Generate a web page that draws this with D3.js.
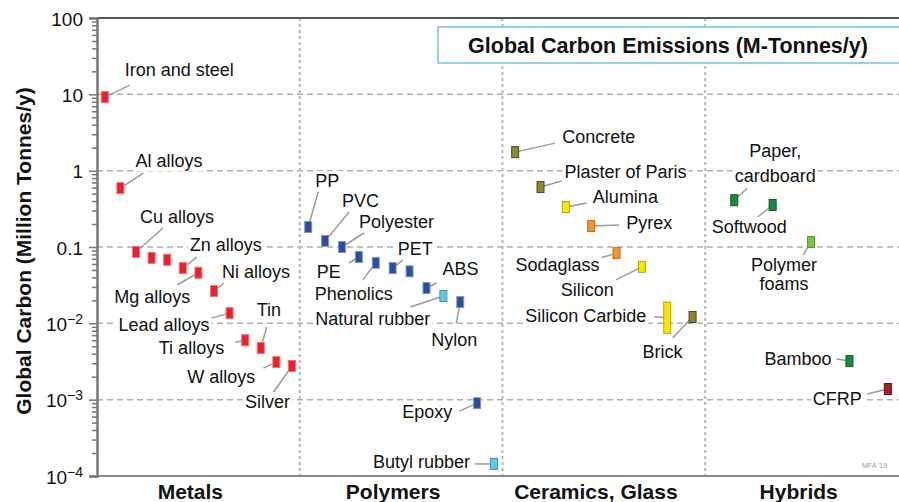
<!DOCTYPE html>
<html>
<head>
<meta charset="utf-8">
<script src="https://cdn.jsdelivr.net/npm/d3@7"></script>
<style>
  body { margin: 0; background: #fff; }
  svg { display: block; font-family: "Liberation Sans", Arial, Helvetica, sans-serif; }
</style>
</head>
<body>
<svg id="chart" width="899" height="502"></svg>
<script>
// categories along the bottom
const categories = ["Metals", "Polymers", "Ceramics, Glass", "Hybrids"];

// metals (million tonnes CO2 / y)
const metalNames  = ["Iron and steel", "Al alloys", "Cu alloys", "", "", "Zn alloys", "Mg alloys",
                     "Ni alloys", "Lead alloys", "Ti alloys", "Tin", "W alloys", "Silver"];
const metalValues = [9.2, 0.59, 0.086, 0.072, 0.068, 0.053, 0.046, 0.0265, 0.0136, 0.006, 0.00475, 0.0031, 0.00276];
const metalGroups = ["metal", "metal", "metal", "metal", "metal", "metal", "metal",
                     "metal", "metal", "metal", "metal", "metal", "metal"];

// polymers
const polymerNames  = ["PP", "PVC", "Polyester", "PE", "Phenolics", "PET", "", "ABS",
                       "Natural rubber", "Nylon", "Epoxy", "Butyl rubber"];
const polymerValues = [0.183, 0.12, 0.1, 0.074, 0.062, 0.053, 0.048, 0.029, 0.0228, 0.019, 0.0009, 0.000144];
const polymerGroups = ["polymer", "polymer", "polymer", "polymer", "polymer", "polymer", "polymer", "polymer",
                       "elastomer", "polymer", "polymer", "elastomer"];

// ceramics, glass  (silicon carbide is a range)
const ceramicNames  = ["Concrete", "Plaster of Paris", "Alumina", "Pyrex", "Sodaglass", "Silicon",
                       "Silicon Carbide", "Brick"];
const ceramicValues = [1.75, 0.61, 0.334, 0.188, 0.083, 0.055, [0.0074, 0.019], 0.0121];
const ceramicGroups = ["mineral", "mineral", "technical", "glass", "glass", "technical", "technical", "mineral"];

// hybrids
const hybridNames  = ["Paper, cardboard", "Softwood", "Polymer foams", "Bamboo", "CFRP"];
const hybridValues = [0.41, 0.355, 0.116, 0.0032, 0.00138];
const hybridGroups = ["natural", "natural", "foam", "natural", "composite"];

// y ticks
const yTicks = [1e-4, 1e-3, 1e-2, 0.1, 1, 10, 100];
const yTickLabels = [["10", "\u22124"], ["10", "\u22123"], ["10", "\u22122"], ["0.1"], ["1"], ["10"], ["100"]];

const title = "Global Carbon Emissions (M-Tonnes/y)";
const yTitle = "Global Carbon (Million Tonnes/y)";

//colours for each material family
const groupKeys   = ["metal", "polymer", "elastomer", "mineral", "technical", "glass", "natural", "foam", "composite"];
const groupFill   = ["#e6222b", "#2c4e9c", "#63c9dd", "#8b8830", "#f4e800", "#f19531", "#1e8744", "#7cc444", "#a51e2b"];
const groupStroke = ["#f2707a", "#7f98cc", "#2f9bb7", "#4e4c1a", "#b5a800", "#c46d12", "#0e5a2a", "#4c9a22", "#6e0f18"];

// spread of the points inside each column (padding, align)
const innerSpread = [[0.5, 0.5], [0.5, 0.5], [0.5, 0.5], [0.64, 0.59]];

// label placement relative to the point: dx, dy, anchor, leader x, leader y, line gap
const labelPos = {
  "Iron and steel": [20, -21, "start", 25, -12],
  "Al alloys": [15, -21, "start", 23, -15],
  "Cu alloys": [4, -29, "start", 27, -24],
  "Zn alloys": [7, -17, "start", 14, -11],
  "Mg alloys": [-8, 30, "end", -21, 12],
  "Ni alloys": [8, -13, "start", 10, -8],
  "Lead alloys": [-20, 18, "end", -18, 5],
  "Ti alloys": [-21, 14, "end", -10, 2],
  "Tin": [-4, -32, "start", 6, -21],
  "W alloys": [-21, 21, "end", -13, 6],
  "Silver": [-2, 42, "end", -19, 27],
  "PP": [7, -40, "start", 10, -35],
  "PVC": [17, -34, "start", 24, -29],
  "Polyester": [17, -19, "start", 22, -14],
  "PE": [-18, 21, "end", -10, 6],
  "Phenolics": [-61, 37, "start", -13, 17],
  "PET": [5, -13, "start", 10, -8],
  "ABS": [16, -13, "start", 10, -5],
  "Natural rubber": [-13, 29, "end", -33, 11],
  "Nylon": [-29, 44, "start", -4, 21],
  "Epoxy": [-25, 15, "end", -18, 8],
  "Butyl rubber": [-24, 4, "end", -19, 0],
  "Concrete": [47, -9, "start", 40, -9],
  "Plaster of Paris": [24, -9, "start", 21, -6],
  "Alumina": [27, -4, "start", 21, -4],
  "Pyrex": [35, 3, "start", 28, -1],
  "Sodaglass": [-17, 18, "end", -17, 5],
  "Silicon": [-28, 29, "end", -26, 13],
  "Silicon Carbide": [-21, 4, "end", -13, -1],
  "Brick": [-50, 41, "start", -20, 21],
  "Paper, cardboard": [41, -43, "middle", 13, -12, 25],
  "Softwood": [-61, 28, "start", -15, 12],
  "Polymer foams": [-27, 29, "middle", -8, 13, 19],
  "Bamboo": [-18, 4, "end", -13, -2],
  "CFRP": [-26, 16, "end", -21, 5]
};
const lineBreaks = {"Paper, cardboard": ["Paper,", "cardboard"], "Polymer foams": ["Polymer", "foams"]};

const width = 899, height = 502;
const mLeft = 97, mTop = 18, mBottom = 476, mRight = 908;

const svg = d3.select("#chart");

const x = d3.scaleBand().domain(categories).range([mLeft, mRight]);
const y = d3.scaleLog().domain([1e-4, 100]).range([mBottom, mTop]);
const fill = d3.scaleOrdinal().domain(groupKeys).range(groupFill);
const stroke = d3.scaleOrdinal().domain(groupKeys).range(groupStroke);

//build the rows
let rows = [];
let lists = [[metalNames, metalValues, metalGroups], [polymerNames, polymerValues, polymerGroups],
             [ceramicNames, ceramicValues, ceramicGroups], [hybridNames, hybridValues, hybridGroups]];
lists.forEach((l, c) => {
  let inner = d3.scalePoint().domain(d3.range(l[0].length))
      .range([x(categories[c]), x(categories[c]) + x.bandwidth()])
      .padding(innerSpread[c][0]).align(innerSpread[c][1]);
  for (let i = 0; i < l[0].length; i++) {
    let v = l[1][i];
    let lo = Array.isArray(v) ? v[0] : v;
    let hi = Array.isArray(v) ? v[1] : v;
    rows.push({name: l[0][i], group: l[2][i], cx: inner(i), lo: lo, hi: hi,
               cy: Array.isArray(v) ? (y(lo) + y(hi)) / 2 : y(v), range: Array.isArray(v)});
  }
});

// grid lines
svg.append("g").selectAll("line").data(yTicks.slice(1, -1)).join("line")
  .attr("x1", mLeft).attr("x2", width)
  .attr("y1", d => y(d)).attr("y2", d => y(d))
  .attr("stroke", "#b0b0b0").attr("stroke-width", 1.5).attr("stroke-dasharray", "6,4");

svg.append("g").selectAll("line").data(categories.slice(1)).join("line")
  .attr("x1", d => x(d)).attr("x2", d => x(d))
  .attr("y1", mTop).attr("y2", mBottom)
  .attr("stroke", "#b5b5b5").attr("stroke-width", 2).attr("stroke-dasharray", "3,3");

// frame lines
svg.append("line").attr("x1", mLeft).attr("x2", width).attr("y1", mTop).attr("y2", mTop)
  .attr("stroke", "#555").attr("stroke-width", 2);
svg.append("line").attr("x1", mLeft).attr("x2", width).attr("y1", mBottom).attr("y2", mBottom)
  .attr("stroke", "#8a8a8a").attr("stroke-width", 2);

// y axis, minor ticks first
let minor = [];
for (let e = -4; e < 2; e++) for (let k = 2; k < 10; k++) minor.push(k * Math.pow(10, e));
let minorAxis = svg.append("g").attr("transform", `translate(${mLeft},0)`)
  .call(d3.axisLeft(y).tickValues(minor).tickSize(5).tickFormat(""));
minorAxis.select(".domain").remove();
minorAxis.selectAll("line").attr("stroke", "#777").attr("stroke-width", 1.5);

let yAxis = svg.append("g").attr("transform", `translate(${mLeft},0)`)
  .call(d3.axisLeft(y).tickValues(yTicks).tickSize(8).tickPadding(6).tickFormat(""));
yAxis.select(".domain").attr("stroke", "#777").attr("stroke-width", 2.5);
yAxis.selectAll("line").attr("stroke", "#777").attr("stroke-width", 1.5);
yAxis.selectAll(".tick").each(function(d, i) {
  let lab = yTickLabels[i];
  let t = d3.select(this).append("text")
    .attr("x", -14).attr("y", 7).attr("text-anchor", "end")
    .attr("fill", "#111").style("font-size", "19px");
  if (lab.length === 1) {
    t.text(lab[0]);
  } else {
    t.append("tspan").text(lab[0]);
    t.append("tspan").attr("dy", -7).style("font-size", "14px").text(lab[1]);
  }
});

svg.append("text")
  .attr("transform", `translate(31,251) rotate(-90)`)
  .attr("text-anchor", "middle").attr("font-weight", "bold")
  .style("font-size", "21px").attr("fill", "#111")
  .text(yTitle);

// category labels
svg.append("g").selectAll("text").data(categories).join("text")
  .attr("x", d => x(d) + x.bandwidth() / 2 - 8).attr("y", 499)
  .attr("text-anchor", "middle").attr("font-weight", "bold")
  .style("font-size", "21px").attr("fill", "#111")
  .text(d => d);

// title box
svg.append("rect").attr("x", 438).attr("y", 27).attr("width", 480).attr("height", 36)
  .attr("fill", "#fff").attr("stroke", "#98d0e4").attr("stroke-width", 2);
svg.append("text").attr("x", 668).attr("y", 53).attr("text-anchor", "middle")
  .attr("font-weight", "bold").style("font-size", "21.5px").attr("fill", "#111")
  .text(title);

svg.append("text").attr("x", 862).attr("y", 468).style("font-size", "7px").attr("fill", "#999")
  .text("MFA '19");

// leaders
let labelled = rows.filter(d => labelPos[d.name]);
svg.append("g").selectAll("line").data(labelled).join("line")
  .attr("x1", d => d.cx + labelPos[d.name][3]).attr("y1", d => d.cy + labelPos[d.name][4])
  .attr("x2", d => d.cx).attr("y2", d => d.cy)
  .attr("stroke", "#9c9c9c").attr("stroke-width", 1.5);

// labels with white backing
let labels = svg.append("g").selectAll("g").data(labelled).join("g");
labels.each(function(d) {
  let p = labelPos[d.name];
  let g = d3.select(this);
  let bg = g.append("rect").attr("fill", "#fff");
  let t = g.append("text").attr("text-anchor", p[2]).attr("fill", "#111").style("font-size", "18px");
  let lines = lineBreaks[d.name] || [d.name];
  lines.forEach((s, k) => {
    t.append("tspan").attr("x", d.cx + p[0]).attr("y", d.cy + p[1] + k * (p[5] || 0)).text(s);
  });
  let b = t.node().getBBox();
  bg.attr("x", b.x - 2).attr("y", b.y).attr("width", b.width + 4).attr("height", b.height);
});

// material bars
svg.append("g").selectAll("rect").data(rows).join("rect")
  .attr("x", d => d.cx - 3.5)
  .attr("y", d => d.range ? y(d.hi) : d.cy - 5.5)
  .attr("width", 7)
  .attr("height", d => d.range ? y(d.lo) - y(d.hi) : 11)
  .attr("fill", d => fill(d.group))
  .attr("stroke", d => stroke(d.group)).attr("stroke-width", 1);
</script>
</body>
</html>
